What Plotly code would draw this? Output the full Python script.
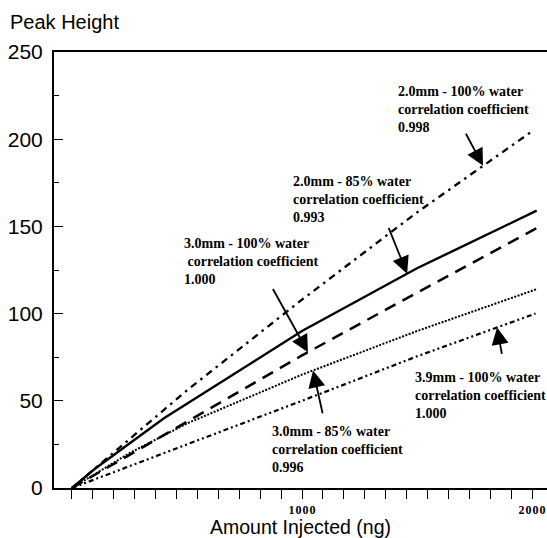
import numpy as np
import plotly.graph_objects as go

# Amount injected (ng) and measured peak heights for each column / mobile phase
x_2mm_100 = [0, 500, 1000, 1500, 2005]
y_2mm_100 = [0, 56, 108, 158, 205]

x_3mm_100 = [0, 100, 400, 1000, 1500, 2020]
y_3mm_100 = [0, 11, 40, 90, 126, 159]

x_2mm_85 = [0, 500, 1000, 1500, 2020]
y_2mm_85 = [0, 38, 76, 112, 149]

x_3mm_85 = [0, 250, 500, 1000, 1500, 2020]
y_3mm_85 = [0, 20, 37, 65, 90, 114]

x_39mm_100 = [0, 500, 1000, 1500, 2015]
y_39mm_100 = [0, 25, 50, 75.5, 100]

# x ticks: eleven divisions per 1000 ng, labelled at 1000 and 2000
x_tick_vals = [i * 1000 / 11 for i in range(23)]
x_tick_text = ["" for _ in x_tick_vals]
x_tick_text[11] = "1\u200a0\u200a0\u200a0"
x_tick_text[22] = "2\u200a0\u200a0\u200a0"

y_tick_vals = [0, 50, 100, 150, 200, 250]

labels = [
    "2.0mm - 100% water<br>correlation coefficient<br>0.998",
    "2.0mm - 85% water<br>correlation coefficient<br>0.993",
    "3.0mm - 100% water<br>\u00a0correlation coefficient<br>1.000",
    "3.9mm - 100% water<br>correlation coefficient<br>1.000",
    "3.0mm - 85% water<br>correlation coefficient<br>0.996",
]

SANS = "Liberation Sans, Arial, sans-serif"
SERIF = "Liberation Serif, Times New Roman, serif"

fig = go.Figure()

series = [
    (x_2mm_100, y_2mm_100, "7px,5px,2.5px,5px", 2.3),
    (x_3mm_100, y_3mm_100, "solid", 2.4),
    (x_2mm_85, y_2mm_85, "12px,8px", 2.5),
    (x_3mm_85, y_3mm_85, "2px,1.5px", 2.0),
    (x_39mm_100, y_39mm_100, "5px,3px,2px,3px,2px,3px", 2.2),
]
for xs, ys, dash, w in series:
    fig.add_trace(go.Scatter(
        x=xs, y=ys, mode="lines",
        line=dict(color="black", width=w, dash=dash),
        showlegend=False, hoverinfo="skip",
    ))

# label text blocks (data coordinates of their top-left corners)
label_pos = [(1408, 233), (952, 181), (478, 145.5), (1482, 69), (861, 38)]
annotations = []
for (lx, ly), txt in zip(label_pos, labels):
    annotations.append(dict(
        x=lx, y=ly, xref="x", yref="y", text=txt, showarrow=False,
        xanchor="left", yanchor="top", align="left",
        font=dict(family=SERIF, size=14, color="black", weight="bold"),
    ))

# arrows from each label towards a curve: (tip x, curve, tail x, tail y)
arrow_specs = [
    (1787, (x_2mm_100, y_2mm_100), 1709, 204),
    (1457, (x_3mm_100, y_3mm_100), 1374, 150),
    (1026, (x_2mm_85, y_2mm_85), 870, 115),
    (1048, (x_3mm_85, y_3mm_85), 1091, 42),
    (1848, (x_39mm_100, y_39mm_100), 1870, 76),
]
for tx, (cx, cy), ax, ay in arrow_specs:
    ty = float(np.interp(tx, cx, cy))
    annotations.append(dict(
        x=tx, y=ty, xref="x", yref="y", ax=ax, ay=ay, axref="x", ayref="y",
        text="", showarrow=True, arrowhead=2, arrowsize=1.9, arrowwidth=1.8,
        arrowcolor="black", standoff=0,
    ))

annotations.append(dict(
    x=-46 / 493, y=1 + 30 / 436, xref="paper", yref="paper", text="Peak Height",
    showarrow=False, xanchor="left", yanchor="middle",
    font=dict(family=SANS, size=20, color="black"),
))

fig.update_layout(
    annotations=annotations,
    width=547, height=538,
    margin=dict(l=54, r=0, t=52, b=50),
    paper_bgcolor="white", plot_bgcolor="white",
    xaxis=dict(
        range=[-78, 2065], showgrid=False, zeroline=False,
        showline=True, linecolor="black", linewidth=2, mirror=True,
        tickmode="array", tickvals=x_tick_vals, ticktext=x_tick_text,
        ticks="outside", ticklen=9, tickwidth=1.2, tickcolor="black",
        ticklabelstandoff=1,
        tickfont=dict(family=SERIF, size=12, color="black", weight="bold"),
        title=dict(text="Amount Injected (ng)", standoff=4,
                   font=dict(family=SANS, size=19.5, color="black")),
    ),
    yaxis=dict(
        range=[0, 250], showgrid=False, zeroline=False,
        showline=True, linecolor="black", linewidth=2,
        tickmode="array", tickvals=y_tick_vals,
        ticks="inside", ticklen=9, tickwidth=1.2, tickcolor="black",
        ticklabelstandoff=5,
        tickfont=dict(family=SANS, size=21, color="black"),
        minor=dict(dtick=25, tick0=0, ticks="inside", ticklen=5,
                   tickwidth=1, tickcolor="black"),
    ),
)

fig.write_html("out.html")
